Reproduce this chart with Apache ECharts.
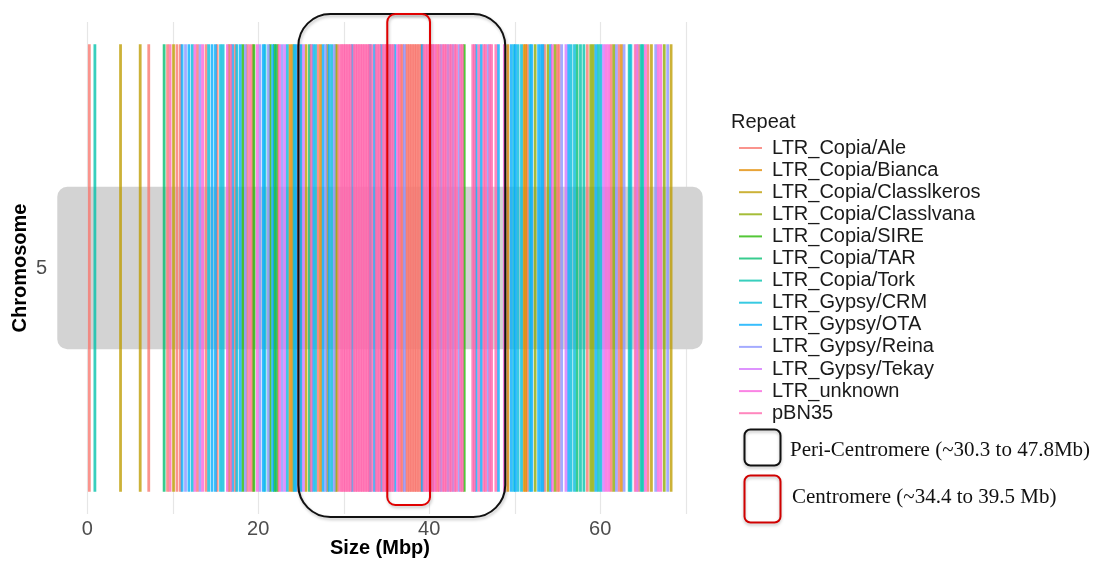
<!DOCTYPE html>
<html><head><meta charset="utf-8">
<script src="https://cdn.jsdelivr.net/npm/echarts@6/dist/echarts.min.js"></script>
<style>html,body{margin:0;padding:0;background:#fff;overflow:hidden}#c{width:1101px;height:561px}</style>
</head><body><div id="c"></div>
<script>
// ---- Data (positions in Mbp on chromosome 5) ----
const chromosomes = ['5'];
const repeatTypes = ['LTR_Copia/Ale','LTR_Copia/Bianca','LTR_Copia/ClassIkeros','LTR_Copia/ClassIvana','LTR_Copia/SIRE','LTR_Copia/TAR','LTR_Copia/Tork','LTR_Gypsy/CRM','LTR_Gypsy/OTA','LTR_Gypsy/Reina','LTR_Gypsy/Tekay','LTR_unknown','pBN35'];
const repeatLabels = ['LTR_Copia/Ale','LTR_Copia/Bianca','LTR_Copia/Classlkeros','LTR_Copia/Classlvana','LTR_Copia/SIRE','LTR_Copia/TAR','LTR_Copia/Tork','LTR_Gypsy/CRM','LTR_Gypsy/OTA','LTR_Gypsy/Reina','LTR_Gypsy/Tekay','LTR_unknown','pBN35'];
const repeatColors = ['#F8766D','#E18A00','#BE9C00','#8CAB00','#24B700','#00BE70','#00C1AB','#00BBDA','#00ACFC','#8B93FF','#D575FE','#F962DD','#FF65AC'];

const ale = [0.25, 7.2, 9.4, 10.5, 10.9, 12.9, 13.9, 15.2, 17.3, 18.7, 19.3, 24.7, 27.0, 29.3, 36.7, 36.9, 37.3, 37.5, 37.7, 37.9, 38.1, 38.3, 38.5, 38.7, 38.9, 39.1, 41.0, 51.5, 53.5, 55.0, 55.2, 58.5, 61.3, 62.2, 64.5, 65.6];
const bianca = [22.3, 23.7, 24.0, 27.3, 49.2, 51.1, 51.3, 62.5];
const classIkeros = [3.9, 6.2, 10.1, 16.6, 25.6, 28.1, 66.0, 68.3];
const classIvana = [29.1, 52.4, 53.9, 54.7, 58.9, 59.2, 61.6, 67.5];
const sire = [18.2, 19.5, 21.4, 21.9, 44.1];
const tar = [9.0, 22.1, 26.0, 57.3];
const tork = [0.9, 57.7, 58.1, 59.8, 63.4, 64.8, 65.0];
const crm = [12.3, 14.2, 15.6, 15.9, 17.5, 20.8, 23.4, 24.2, 26.7, 28.6, 49.9, 50.4, 50.8, 51.8, 56.6, 57.0, 60.1, 63.6];
const ota = [11.1, 11.9, 14.6, 15.0, 17.0, 17.9, 20.6, 21.7, 24.4, 25.0, 26.4, 27.6, 28.3, 31.0, 33.1, 33.6, 34.4, 36.0, 39.2, 45.5, 46.1, 48.1, 49.6, 50.1, 52.0, 52.8, 53.1, 53.3, 54.2, 56.3, 59.5];
const reina = [11.5, 13.2, 18.5, 20.2, 21.2, 22.8, 27.9, 28.9, 37.1, 41.4, 42.2, 42.8, 43.5, 46.9, 55.5, 61.9, 62.8, 66.5, 67.9];
const tekay = [23.1, 25.3, 56.0, 60.4, 64.3];
const ltrUnknown = [12.6, 13.5, 16.4, 19.9, 22.5, 36.3, 40.6, 48.8, 54.4, 60.7, 61.0, 65.3, 66.8, 67.1];
const pBN35 = [9.7, 16.8, 19.0, 26.2, 29.6, 29.8, 30.0, 30.2, 30.4, 30.6, 30.8, 31.2, 31.4, 31.6, 31.8, 32.0, 32.2, 32.4, 32.6, 32.8, 33.0, 33.3, 33.8, 34.0, 34.2, 34.6, 34.8, 35.0, 35.2, 35.4, 35.6, 35.8, 36.5, 39.4, 39.6, 39.8, 40.0, 40.2, 40.4, 40.8, 41.2, 41.6, 41.8, 42.0, 42.4, 42.6, 43.0, 43.2, 43.7, 43.9, 45.1, 45.3, 45.8, 46.4, 46.6, 47.1, 47.3, 47.8, 64.1];
const repeatPositions = [ale, bianca, classIkeros, classIvana, sire, tar, tork, crm, ota, reina, tekay, ltrUnknown, pBN35];

const xTickLabels = [0, 20, 40, 60];
const xGridValues = [0, 10, 20, 30, 40, 50, 60, 70];
const chromExtent = [-3.5, 72.0];
const periCentromere = [24.7, 48.9];
const centromere = [35.1, 40.1];

// ---- Chart ----
const chart = echarts.init(document.getElementById('c'), null, {renderer: 'canvas', width: 1101, height: 561});
const LINE_W = 2.8;
const LINE_FRAC = 0.91;
const BAND_FRAC = 0.33;

function hexA(hex, a){
  const n = parseInt(hex.slice(1), 16);
  return 'rgba(' + ((n>>16)&255) + ',' + ((n>>8)&255) + ',' + (n&255) + ',' + a + ')';
}

const series = [];
repeatTypes.forEach((t, i) => {
  series.push({
    type: 'custom', name: repeatLabels[i],
    coordinateSystem: 'cartesian2d',
    itemStyle: {color: hexA(repeatColors[i], 0.78)},
    encode: {x: 0, y: 1},
    z: 3,
    data: repeatPositions[i].map(v => [v, 0]),
    renderItem: (params, api) => {
      const p = api.coord([api.value(0), 0]);
      const h = api.size([0, 1])[1] * LINE_FRAC;
      return {type: 'rect', shape: {x: p[0] - LINE_W/2, y: p[1] - h/2, width: LINE_W, height: h},
              style: {fill: api.visual('color')}};
    }
  });
});
// grid lines
series.push({
  type: 'custom', name: 'grid', silent: true, z: 1,
  data: xGridValues.map(v => [v, 0]), encode: {x: 0, y: 1},
  renderItem: (params, api) => {
    const cs = params.coordSys;
    const x = Math.round(api.coord([api.value(0), 0])[0]) + 0.5;
    return {type: 'line', shape: {x1: x, y1: cs.y, x2: x, y2: cs.y + cs.height},
            style: {stroke: '#E6E6E6', lineWidth: 1.2}};
  }
});
// chromosome band
series.push({
  type: 'custom', name: 'chrom', silent: true, z: 2,
  data: [[chromExtent[0], chromExtent[1], 0]], encode: {x: [0, 1], y: 2},
  renderItem: (params, api) => {
    const a = api.coord([api.value(0), 0]);
    const b = api.coord([api.value(1), 0]);
    const h = api.size([0, 1])[1] * BAND_FRAC;
    return {type: 'rect', shape: {x: a[0], y: a[1] - h/2, width: b[0] - a[0], height: h, r: [10, 10, 10, 10]},
            style: {fill: '#D3D3D3'}};
  }
});
// annotation boxes
series.push({
  type: 'custom', name: 'annot', silent: true, z: 5, clip: false,
  data: [[periCentromere[0], periCentromere[1], 0], [centromere[0], centromere[1], 1]],
  encode: {x: [0, 1]},
  renderItem: (params, api) => {
    const cs = params.coordSys;
    const x0 = api.coord([api.value(0), 0])[0];
    const x1 = api.coord([api.value(1), 0])[0];
    const peri = api.value(2) === 0;
    const top = cs.y - 8;
    const bottom = peri ? cs.y + cs.height + 3 : cs.y + cs.height - 9;
    return {type: 'rect', shape: {x: x0, y: top, width: x1 - x0, height: bottom - top, r: peri ? 32 : 8},
            style: {fill: 'none', stroke: peri ? '#111111' : '#E00000', lineWidth: 2,
                    shadowBlur: 3, shadowColor: 'rgba(0,0,0,0.25)', shadowOffsetX: 1, shadowOffsetY: 2}};
  }
});

const option = {
  animation: false,
  backgroundColor: '#ffffff',
  textStyle: {fontFamily: 'Liberation Sans, Arial, sans-serif'},
  grid: {left: 53, right: 394, top: 22, bottom: 47, containLabel: false, outerBoundsMode: 'none'},
  xAxis: {
    type: 'value', min: -4, max: 72.5,
    name: 'Size (Mbp)', nameLocation: 'middle', nameGap: 24, nameMoveOverlap: false,
    nameTextStyle: {fontSize: 20, fontWeight: 'bold', color: '#000'},
    axisLine: {show: false}, axisTick: {show: false}, splitLine: {show: false},
    axisLabel: {customValues: xTickLabels, fontSize: 20, color: '#4D4D4D', margin: 5}
  },
  yAxis: {
    type: 'category', data: chromosomes,
    name: 'Chromosome', nameLocation: 'middle', nameGap: 23, nameRotate: 90, nameMoveOverlap: false,
    nameTextStyle: {fontSize: 20, fontWeight: 'bold', color: '#000'},
    axisLine: {show: false}, axisTick: {show: false}, splitLine: {show: false},
    axisLabel: {fontSize: 20, color: '#4D4D4D', margin: 6}
  },
  legend: {
    data: repeatLabels, orient: 'vertical', left: 734, top: 133,
    icon: 'rect', itemWidth: 23, itemHeight: 2, itemGap: 2.1,
    selectedMode: false,
    textStyle: {fontSize: 20, color: '#1A1A1A', padding: [0, 0, 0, 5], fontFamily: 'Liberation Sans'}
  },
  graphic: [
    {type: 'text', left: 731, top: 112, style: {text: 'Repeat', fontSize: 20, fill: '#1A1A1A', fontFamily: 'Liberation Sans'}},
    {type: 'rect', left: 742, top: 427, shape: {width: 36, height: 36, r: 6},
     style: {fill: 'none', stroke: '#111', lineWidth: 2, shadowBlur: 3, shadowColor: 'rgba(0,0,0,0.25)', shadowOffsetY: 2}},
    {type: 'text', left: 790, top: 440, style: {text: 'Peri-Centromere (~30.3 to 47.8Mb)', fontSize: 21, fill: '#111', fontFamily: 'Liberation Serif'}},
    {type: 'rect', left: 742, top: 473, shape: {width: 36, height: 47, r: 6},
     style: {fill: 'none', stroke: '#D00000', lineWidth: 2, shadowBlur: 3, shadowColor: 'rgba(0,0,0,0.25)', shadowOffsetY: 2}},
    {type: 'text', left: 792, top: 487, style: {text: 'Centromere (~34.4 to 39.5 Mb)', fontSize: 21, fill: '#111', fontFamily: 'Liberation Serif'}}
  ],
  series: series
};
chart.setOption(option);
</script>
</body></html>
